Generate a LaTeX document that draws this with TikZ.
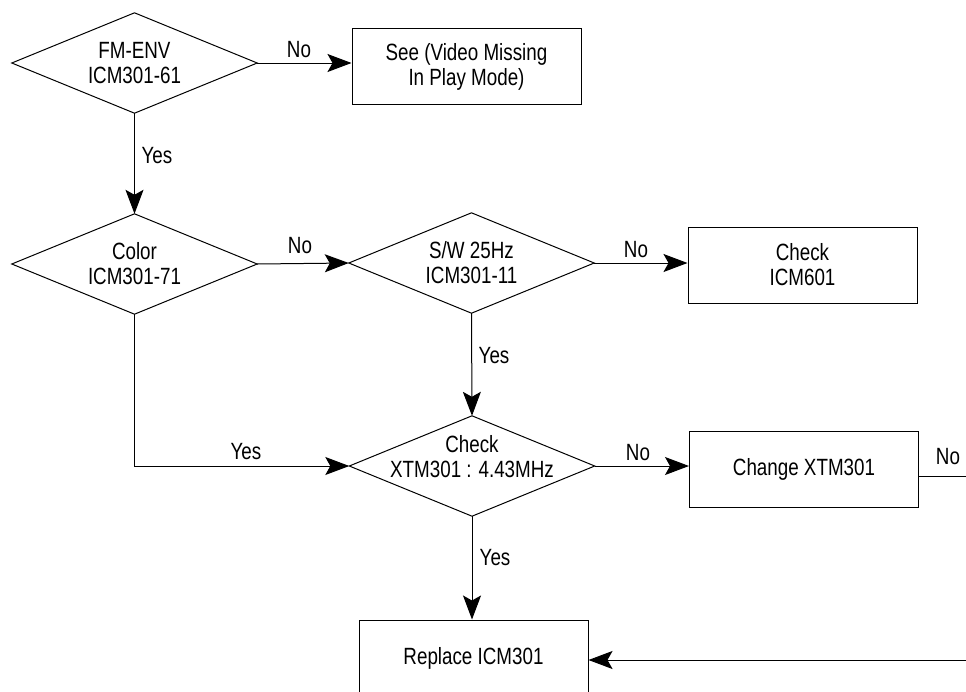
\documentclass[tikz,border=0pt]{standalone}
\usepackage{fontspec}
\setmainfont[FakeStretch=0.8]{Liberation Sans}
\usetikzlibrary{arrows.meta}
\begin{document}
\begin{tikzpicture}[x=1pt,y=-1pt,
  txt/.style={font=\fontsize{23.5}{25}\selectfont},
  box/.style={txt, draw, line width=1pt, minimum width=229pt, minimum height=76pt, inner sep=0pt, align=center},
  dia/.style={txt, minimum width=245pt, minimum height=100pt, inner sep=0pt, align=center},
  lbl/.style={txt, inner sep=0pt},
  arr/.style={line width=1pt, -{Stealth[length=24pt,width=18pt,inset=5pt]}},
  ln/.style={line width=1pt}]
\useasboundingbox (0,0) rectangle (966,691);
\clip (0,0) rectangle (966,691);
% nodes
\node[dia] (d1) at (134.5,63) {FM-ENV\\ICM301-61};
\node[box] (b1) at (466.5,66.5) {See (Video Missing\\In Play Mode)};
\node[dia] (d2) at (134.5,264) {Color\\ICM301-71};
\node[dia] (d3) at (471.5,263) {S/W 25Hz\\ICM301-11};
\node[box] (b2) at (802.5,265) {Check\\ICM601};
\node[dia, label={[txt, align=center, yshift=9pt]center:Check\\XTM301 : 4.43MHz}] (d4) at (472,466) {};
\node[box] (b3) at (804,469) {Change XTM301};
\node[box] (b4) at (473.5,658) {Replace ICM301};
\coordinate (redge) at (966,476);
\coordinate (bedge) at (966,660);
% diamonds outlines
\foreach \d in {d1,d2,d3,d4}
  \draw[ln, line join=miter] (\d.west) -- (\d.north) -- (\d.east) -- (\d.south) -- cycle;
% connectors
\draw[arr] (d1.east) -- (d1.east -| b1.west);
\draw[arr] (d1.south) -- (d2.north);
\draw[arr] (d2.east) -- (d3.west);
\draw[arr] (d3.east) -- (d3.east -| b2.west);
\draw[arr] (d3.south) -- (d4.north);
\draw[arr] (d2.south) |- (d4.west);
\draw[arr] (d4.east) -- (d4.east -| b3.west);
\draw[arr] (d4.south) -- (d4.south |- b4.north);
\draw[ln] (b3.east |- redge) -- (redge);
\draw[arr] (bedge) -- (bedge -| b4.east);
% labels
\node[lbl] (l1) at (299,50) {No};
\node[lbl] (l2) at (157,156) {Yes};
\node[lbl] (l3) at (300,246) {No};
\node[lbl] (l4) at (636,250) {No};
\node[lbl] (l5) at (494,356) {Yes};
\node[lbl] (l6) at (246,452) {Yes};
\node[lbl] (l7) at (638,453) {No};
\node[lbl] (l8) at (948,457) {No};
\node[lbl] (l9) at (495,558) {Yes};
\end{tikzpicture}
\end{document}
